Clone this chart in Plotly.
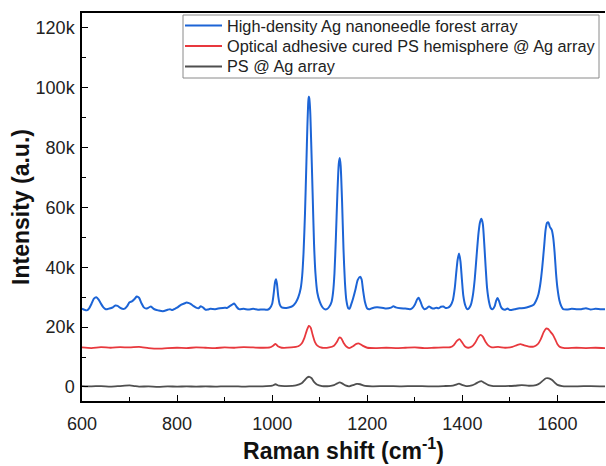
import plotly.graph_objects as go

# Raman shift (cm-1) and intensities (in thousands, a.u.)
blue_x = [600, 605, 610, 615, 620, 625, 630, 635, 640, 645, 650, 655, 660, 665, 670, 675, 680, 685, 690, 695,
          700, 705, 710, 715, 720, 725, 730, 735, 740, 745, 750, 755, 760, 770, 780, 785, 790, 795, 800, 805,
          810, 815, 820, 825, 830, 835, 840, 845, 850, 855, 860, 865, 870, 880, 890, 900, 905, 910, 915, 920,
          925, 930, 940, 950, 960, 970, 980, 990, 995, 1000, 1003, 1006, 1008, 1010, 1013, 1016, 1020, 1030,
          1040, 1045, 1050, 1055, 1060, 1063, 1066, 1069, 1072, 1074, 1076, 1077, 1078, 1080, 1082, 1085,
          1088, 1091, 1095, 1100, 1105, 1110, 1115, 1120, 1125, 1128, 1131, 1134, 1137, 1140, 1142, 1144,
          1147, 1150, 1153, 1156, 1160, 1163, 1166, 1170, 1175, 1180, 1185, 1188, 1191, 1195, 1200, 1205,
          1210, 1220, 1230, 1240, 1250, 1255, 1260, 1270, 1280, 1290, 1295, 1300, 1305, 1308, 1312, 1316,
          1320, 1325, 1330, 1335, 1340, 1345, 1350, 1355, 1360, 1365, 1370, 1375, 1380, 1384, 1387, 1390,
          1393, 1396, 1399, 1402, 1406, 1410, 1414, 1418, 1422, 1426, 1430, 1434, 1437, 1440, 1443, 1446,
          1449, 1452, 1456, 1460, 1464, 1468, 1471, 1474, 1477, 1481, 1485, 1490, 1495, 1500, 1510, 1520,
          1530, 1540, 1550, 1555, 1560, 1564, 1568, 1572, 1575, 1578, 1581, 1584, 1588, 1591, 1594, 1597,
          1600, 1604, 1608, 1612, 1620, 1630, 1640, 1650, 1660, 1670, 1680, 1690, 1700]
blue_y = [26.2, 25.8, 25.6, 26.3, 27.8, 29.5, 30.0, 29.2, 27.8, 26.6, 26.0, 26.1, 26.3, 26.6, 27.2, 27.1, 26.5, 26.1, 26.2, 27.0,
          28.3, 28.6, 29.3, 30.2, 29.8, 28.0, 26.6, 26.2, 26.5, 26.9, 26.2, 25.8, 25.6, 25.3, 25.8, 26.0, 25.7, 26.1, 26.5, 27.1,
          27.6, 27.9, 28.2, 28.0, 27.6, 27.0, 26.5, 26.3, 27.0, 26.5, 25.8, 25.9, 26.1, 26.0, 26.3, 26.5, 26.4, 26.9, 27.4, 27.9,
          26.8, 26.0, 26.1, 25.9, 26.1, 25.8, 25.9, 25.8, 26.3, 27.8, 31.0, 35.0, 36.0, 34.5, 30.0, 27.5, 26.6, 26.4,
          26.8, 27.3, 28.3, 30.0, 33.0, 37.0, 45.0, 58.0, 75.0, 87.0, 95.5, 97.1, 96.5, 92.0, 82.0, 65.0,
          48.0, 38.0, 31.5, 28.5, 26.8, 26.0, 26.0, 26.8, 28.5, 31.5, 38.0, 50.0, 64.0, 74.5, 76.5, 74.0,
          62.0, 46.0, 35.0, 29.0, 26.3, 26.2, 27.5, 29.5, 32.5, 35.8, 36.8, 36.0, 32.5, 28.5, 26.2, 26.0,
          26.3, 26.6, 26.5, 26.2, 26.5, 27.0, 26.6, 26.3, 26.2, 26.0, 26.4, 27.5, 29.3, 29.8, 28.5, 26.8,
          26.0, 26.3, 26.9, 26.4, 26.2, 26.5, 26.3, 26.8, 26.9, 26.4, 26.5, 27.2, 29.0, 33.0, 38.0, 42.5,
          44.6, 42.0, 36.0, 30.5, 27.3, 26.0, 26.3, 27.5, 30.5, 36.0, 44.0, 51.5, 55.0, 56.2, 54.5, 48.0,
          40.0, 33.0, 28.5, 26.3, 26.0, 27.0, 28.8, 29.7, 28.8, 26.8, 26.0, 25.8, 26.2, 25.7, 26.0, 26.3,
          26.4, 26.8, 27.5, 28.8, 31.0, 34.5, 40.0, 47.0, 52.5, 54.8, 55.0, 53.5, 52.5, 50.0, 45.0, 38.0,
          33.0, 29.0, 27.0, 26.0, 25.9, 26.1, 26.0, 26.0, 26.3, 25.9, 26.1, 26.0, 26.0]

red_x = [600, 620, 640, 660, 680, 700, 720, 740, 760, 780, 800, 820, 840, 860, 880, 900, 920, 940, 960, 980,
         995, 1002, 1007, 1012, 1020, 1040, 1055, 1062, 1068, 1073, 1077, 1081, 1085, 1090, 1095, 1105, 1120,
         1130, 1136, 1141, 1145, 1150, 1156, 1162, 1170, 1177, 1183, 1190, 1200, 1220, 1240, 1260, 1280, 1300,
         1320, 1340, 1360, 1375, 1382, 1388, 1394, 1399, 1405, 1412, 1420, 1427, 1433, 1438, 1443, 1449, 1455,
         1462, 1475, 1490, 1505, 1515, 1522, 1530, 1540, 1550, 1558, 1565, 1571, 1576, 1580, 1585, 1590, 1595,
         1600, 1606, 1615, 1640, 1660, 1680, 1700]
red_y = [13.2, 13.0, 13.3, 13.1, 13.3, 13.2, 13.4, 13.0, 12.8, 13.0, 13.1, 13.0, 13.2, 13.1, 13.0, 13.2, 13.1, 13.3, 13.2, 13.1,
         13.2, 13.8, 14.4, 13.6, 13.1, 13.2, 13.6, 14.5, 16.5, 19.0, 20.4, 19.8, 17.5, 15.0, 13.8, 13.1, 13.2,
         13.8, 15.0, 16.5, 16.3, 14.8, 13.5, 13.0, 13.6, 14.4, 14.5, 13.8, 13.1, 13.0, 13.1, 13.0, 13.1, 13.2,
         13.0, 13.1, 13.2, 13.3, 14.0, 15.3, 16.0, 15.0, 13.6, 13.1, 13.5, 14.8, 16.5, 17.4, 16.8, 15.0, 13.8,
         13.2, 13.4, 13.1, 13.4, 14.0, 14.3, 13.9, 13.5, 13.5, 14.2, 16.0, 18.3, 19.5, 19.4, 18.5, 17.5, 16.0,
         14.3, 13.3, 13.0, 13.1, 13.0, 13.1, 13.0]

gray_x = [600, 620, 640, 660, 680, 700, 710, 720, 740, 760, 780, 800, 820, 840, 860, 880, 900, 920, 940, 960,
          980, 1000, 1007, 1014, 1030, 1050, 1062, 1068, 1073, 1078, 1083, 1088, 1094, 1105, 1120, 1130, 1137,
          1142, 1147, 1154, 1162, 1170, 1178, 1185, 1193, 1210, 1240, 1270, 1300, 1330, 1360, 1380, 1387, 1393,
          1399, 1408, 1420, 1428, 1436, 1441, 1447, 1455, 1465, 1490, 1510, 1525, 1540, 1555, 1563, 1570, 1576,
          1582, 1588, 1594, 1600, 1610, 1640, 1670, 1700]
gray_y = [0.3, 0.2, 0.3, 0.1, 0.3, 0.5, 0.3, 0.1, 0.2, 0.0, 0.2, 0.1, 0.2, 0.1, 0.2, 0.1, 0.2, 0.2, 0.1, 0.2,
          0.2, 0.4, 0.9, 0.4, 0.3, 0.5, 1.2, 2.2, 3.1, 3.4, 2.9, 1.7, 0.8, 0.3, 0.3, 0.6, 1.2,
          1.5, 1.2, 0.5, 0.2, 0.6, 1.0, 0.9, 0.4, 0.2, 0.3, 0.2, 0.3, 0.2, 0.3, 0.4, 0.8, 1.1,
          0.7, 0.3, 0.5, 1.1, 1.8, 1.9, 1.3, 0.6, 0.3, 0.3, 0.4, 0.6, 0.4, 0.6, 1.2, 2.2, 2.9,
          2.9, 2.4, 1.5, 0.7, 0.3, 0.2, 0.3, 0.2]

series_names = ["High-density Ag nanoneedle forest array",
                "Optical adhesive cured PS hemisphere @ Ag array",
                "PS @ Ag array"]
series_colors = ["#1c64d6", "#e8383d", "#4f4f4f"]

y_tickvals = [0, 20000, 40000, 60000, 80000, 100000, 120000]
y_ticktext = ["0", "20k", "40k", "60k", "80k", "100k", "120k"]
x_tickvals = [600, 800, 1000, 1200, 1400, 1600]

FONT = "Arial, Liberation Sans, sans-serif"
W, H = 606, 466
ML, MR, MT, MB = 82, 1, 13, 65
PW, PH = W - ML - MR, H - MT - MB


def px_x(px):
    return (px - ML) / PW


def px_y(py):
    return (H - MB - py) / PH


fig = go.Figure()
widths = [2.0, 1.8, 1.8]
for xs, ys, name, col, w in zip([blue_x, red_x, gray_x], [blue_y, red_y, gray_y],
                                series_names, series_colors, widths):
    fig.add_trace(go.Scatter(x=xs, y=[v * 1000 for v in ys], mode="lines", name=name, showlegend=False,
                             line=dict(color=col, width=w, shape="spline", smoothing=0.6)))

# Boxed legend (drawn to match the reference's compact layout)
shapes = [dict(type="rect", xref="paper", yref="paper", x0=px_x(183), x1=px_x(599), y0=px_y(78), y1=px_y(15),
               line=dict(color="#8a8a8a", width=1), fillcolor="white", layer="above")]
annotations = []
rows = [25.5, 46, 66.5]
for row, name, col, w in zip(rows, series_names, series_colors, widths):
    shapes.append(dict(type="line", xref="paper", yref="paper", x0=px_x(185), x1=px_x(222),
                       y0=px_y(row), y1=px_y(row), line=dict(color=col, width=w), layer="above"))
    annotations.append(dict(xref="paper", yref="paper", x=px_x(225), y=px_y(row), text=name,
                            showarrow=False, xanchor="left", yanchor="middle",
                            font=dict(size=16.3, family=FONT, color="#222")))

fig.update_layout(
    width=W, height=H,
    margin=dict(l=ML, r=MR, t=MT, b=MB),
    paper_bgcolor="white", plot_bgcolor="white",
    font=dict(family=FONT, color="#222"),
    showlegend=False,
    shapes=shapes, annotations=annotations,
)
fig.update_xaxes(
    range=[600, 1700], tickvals=x_tickvals, ticks="inside", ticklen=6, tickwidth=1.3,
    tickcolor="black", showline=True, linecolor="black", linewidth=1.5, mirror=True,
    showgrid=False, zeroline=False, tickfont=dict(size=18, family=FONT, color="#222"),
    ticklabelstandoff=6,
    minor=dict(dtick=100, tick0=600, ticks="inside", ticklen=4, tickwidth=1.2, tickcolor="black"),
    title=dict(text="<b>Raman shift (cm<sup>-1</sup>)</b>", font=dict(size=23, family=FONT, color="#111"), standoff=5),
)
fig.update_yaxes(
    range=[-4700, 125000], tickvals=y_tickvals, ticktext=y_ticktext, ticks="inside", ticklen=6,
    tickwidth=1.3, tickcolor="black", showline=True, linecolor="black", linewidth=1.5,
    showgrid=False, zeroline=False, tickfont=dict(size=18, family=FONT, color="#222"),
    ticklabelstandoff=2,
    minor=dict(tickvals=[10000, 30000, 50000, 70000, 90000, 110000], ticks="inside", ticklen=4,
               tickwidth=1.2, tickcolor="black"),
    title=dict(text="<b>Intensity (a.u.)</b>", font=dict(size=23, family=FONT, color="#111"), standoff=0),
)

fig.write_html("out.html")
